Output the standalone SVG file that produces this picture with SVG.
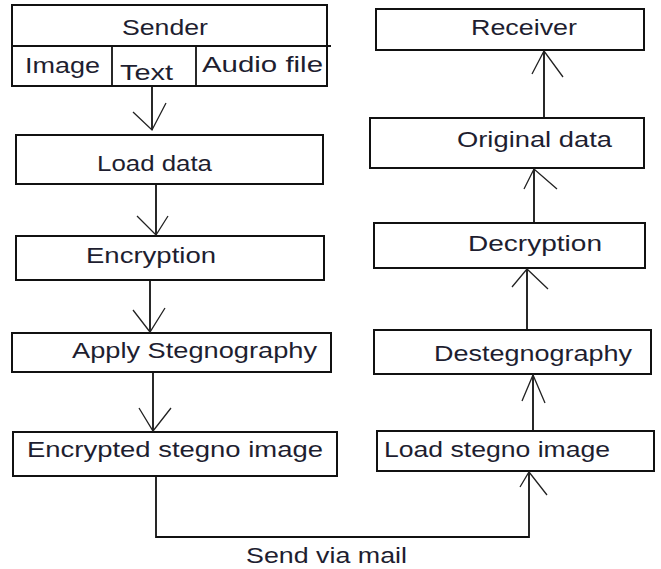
<svg xmlns="http://www.w3.org/2000/svg" width="661" height="569" viewBox="0 0 661 569">
<style>
.box{fill:#fff;stroke:#111;stroke-width:2}
.ln{fill:none;stroke:#111;stroke-width:1.8}
.ah{fill:none;stroke:#222;stroke-width:1.3}
text{font-family:"Liberation Sans",Arial,sans-serif;font-size:22px;fill:#1e1e30}
</style>
<rect width="661" height="569" fill="#fff"/>
<g id="sender">
<rect class="box" x="12" y="5" width="315" height="81"/>
<line class="ln" x1="12" y1="46" x2="331" y2="46"/>
<line class="ln" x1="112" y1="46" x2="112" y2="86"/>
<line class="ln" x1="196" y1="46" x2="196" y2="86"/>
<text x="122" y="35" textLength="86" lengthAdjust="spacingAndGlyphs">Sender</text>
<text x="25" y="73" textLength="75" lengthAdjust="spacingAndGlyphs">Image</text>
<text x="120" y="80" textLength="53" lengthAdjust="spacingAndGlyphs">Text</text>
<text x="202" y="72" textLength="121" lengthAdjust="spacingAndGlyphs">Audio file</text>
</g>
<g id="load-data">
<rect class="box" x="16" y="135" width="307" height="49"/>
<text x="97" y="171" textLength="115" lengthAdjust="spacingAndGlyphs">Load data</text>
</g>
<g id="encryption">
<rect class="box" x="16" y="236" width="308" height="44"/>
<text x="86" y="263" textLength="130" lengthAdjust="spacingAndGlyphs">Encryption</text>
</g>
<g id="apply-stegnography">
<rect class="box" x="12" y="333" width="319" height="39"/>
<text x="72" y="358" textLength="245" lengthAdjust="spacingAndGlyphs">Apply Stegnography</text>
</g>
<g id="encrypted-stegno-image">
<rect class="box" x="13" y="432" width="324" height="44"/>
<text x="27" y="457" textLength="296" lengthAdjust="spacingAndGlyphs">Encrypted stegno image</text>
</g>
<g id="receiver">
<rect class="box" x="376" y="9" width="268" height="41"/>
<text x="471" y="35" textLength="106" lengthAdjust="spacingAndGlyphs">Receiver</text>
</g>
<g id="original-data">
<rect class="box" x="370" y="118" width="274" height="50"/>
<text x="457" y="147" textLength="155" lengthAdjust="spacingAndGlyphs">Original data</text>
</g>
<g id="decryption">
<rect class="box" x="374" y="223" width="271" height="45"/>
<text x="468" y="251" textLength="134" lengthAdjust="spacingAndGlyphs">Decryption</text>
</g>
<g id="destegnography">
<rect class="box" x="374" y="330" width="277" height="44"/>
<text x="434" y="361" textLength="198" lengthAdjust="spacingAndGlyphs">Destegnography</text>
</g>
<g id="load-stegno-image">
<rect class="box" x="377" y="431" width="277" height="40"/>
<text x="384" y="457" textLength="226" lengthAdjust="spacingAndGlyphs">Load stegno image</text>
</g>
<g id="connectors">
<line class="ln" x1="152" y1="87" x2="152" y2="130"/>
<polyline class="ah" points="133,112 152,130 166,103"/>
<line class="ln" x1="156" y1="185" x2="156" y2="235"/>
<polyline class="ah" points="137,216 156,235 168,216"/>
<line class="ln" x1="150" y1="281" x2="150" y2="332"/>
<polyline class="ah" points="133,310 150,332 165,308"/>
<line class="ln" x1="153" y1="373" x2="153" y2="431"/>
<polyline class="ah" points="139,408 153,431 171,408"/>
<polyline class="ln" points="156,477 156,537 529,537 529,472"/>
<polyline class="ah" points="520,487 529,472 547,495"/>
<line class="ln" x1="533" y1="430" x2="533" y2="375"/>
<polyline class="ah" points="522,401 533,375 545,403"/>
<line class="ln" x1="527" y1="329" x2="527" y2="269"/>
<polyline class="ah" points="512,287 527,269 548,289"/>
<line class="ln" x1="534" y1="222" x2="534" y2="169"/>
<polyline class="ah" points="524,189 534,169 557,189"/>
<line class="ln" x1="544" y1="117" x2="544" y2="51"/>
<polyline class="ah" points="532,74 544,51 563,77"/>
</g>
<text x="246" y="563" textLength="161" lengthAdjust="spacingAndGlyphs">Send via mail</text>
</svg>
